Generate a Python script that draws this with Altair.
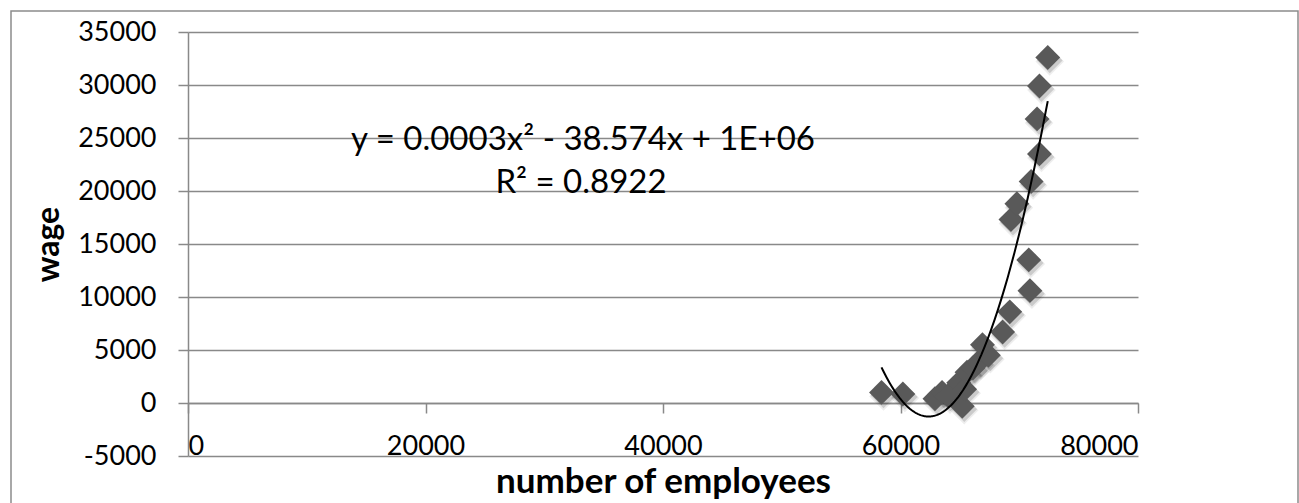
import altair as alt
import pandas as pd

# Observations: number of employees vs. wage
employees = [58400, 60200, 62900, 63500, 64000, 64900, 65200, 65400, 65600,
             66100, 66600, 67400, 66900, 68600, 69200, 70900, 70800, 69300,
             69800, 71000, 71700, 71500, 71700, 72400]
wage = [1000, 850, 400, 1000, 700, 1900, -300, 1300, 2900,
        3300, 3900, 4500, 5500, 6700, 8600, 10600, 13500, 17300,
        18800, 20900, 23500, 26800, 29900, 32600]

x_ticks = [0, 20000, 40000, 60000, 80000]
y_ticks = [-5000, 0, 5000, 10000, 15000, 20000, 25000, 30000, 35000]

equation_text = "y = 0.0003x² - 38.574x + 1E+06"
r2_text = "R² = 0.8922"

df = pd.DataFrame({"employees": employees, "wage": wage})

GRID = "#898989"
FONT = "Lato"

x_enc = alt.X(
    "employees:Q",
    scale=alt.Scale(domain=[0, 80000], nice=False, zero=False),
    axis=alt.Axis(
        values=x_ticks, grid=False, offset=-53,
        tickSize=10, tickColor=GRID, tickWidth=1.5,
        domainColor=GRID, domainWidth=1.5,
        labelFont=FONT, labelFontSize=27, labelColor="black",
        labelBaseline="alphabetic", labelPadding=41,
        labelExpr="'' + datum.value",
        title="number of employees", titleFont=FONT, titleFontSize=35,
        titleFontWeight="bold", titleColor="black",
        titleBaseline="alphabetic", titleX=475, titleY=89,
    ),
)

y_enc = alt.Y(
    "wage:Q",
    scale=alt.Scale(domain=[-5000, 35000], nice=False, zero=False),
    axis=alt.Axis(
        values=y_ticks, grid=True, gridColor=GRID, gridWidth=1.5,
        tickSize=10, tickColor=GRID, tickWidth=1.5,
        domainColor=GRID, domainWidth=1.5,
        labelFont=FONT, labelFontSize=27, labelColor="black", labelPadding=22,
        labelExpr="'' + datum.value",
        title="wage", titleFont=FONT, titleFontSize=32, titleFontWeight="bold",
        titleColor="black", titleAngle=-90, titleAlign="center",
        titleBaseline="alphabetic", titleX=-130, titleY=212,
    ),
)

base = alt.Chart(df)

# soft drop shadow under the diamond markers
shadow_outer = base.mark_point(shape="diamond", filled=True, size=820, color="#000000",
                               opacity=0.07, xOffset=2, yOffset=4).encode(x=x_enc, y=y_enc)
shadow_inner = base.mark_point(shape="diamond", filled=True, size=660, color="#000000",
                               opacity=0.14, xOffset=2, yOffset=3).encode(x=x_enc, y=y_enc)
points = base.mark_point(shape="diamond", filled=True, size=620, color="#595959",
                         opacity=1).encode(x=x_enc, y=y_enc)

# second-order polynomial trend line fitted to the observations
trend = base.transform_regression(
    "employees", "wage", method="poly", order=2
).mark_line(color="black", strokeWidth=2).encode(x=x_enc, y=y_enc)

label_df = pd.DataFrame({"k": [0]})
eq_label = alt.Chart(label_df).mark_text(
    text=equation_text, font=FONT, fontSize=33, color="black",
    align="center", baseline="alphabetic"
).encode(x=alt.value(395), y=alt.value(118))
r2_label = alt.Chart(label_df).mark_text(
    text=r2_text, font=FONT, fontSize=33, color="black",
    align="center", baseline="alphabetic"
).encode(x=alt.value(393), y=alt.value(161))

# outer chart frame
frame = alt.Chart(label_df).mark_rect(
    fillOpacity=0, stroke="#8c8c8c", strokeWidth=1.5
).encode(x=alt.value(-177), x2=alt.value(1110), y=alt.value(-21), y2=alt.value(480))

chart = alt.layer(
    frame, shadow_outer, shadow_inner, points, trend, eq_label, r2_label
).properties(
    width=950, height=424,
    autosize=alt.AutoSizeParams(type="none"),
    padding={"left": 188, "top": 32, "right": 161, "bottom": 47},
    background="white",
).configure_view(stroke=None)

chart.save("out.html", embed_options={"renderer": "svg", "actions": False})
